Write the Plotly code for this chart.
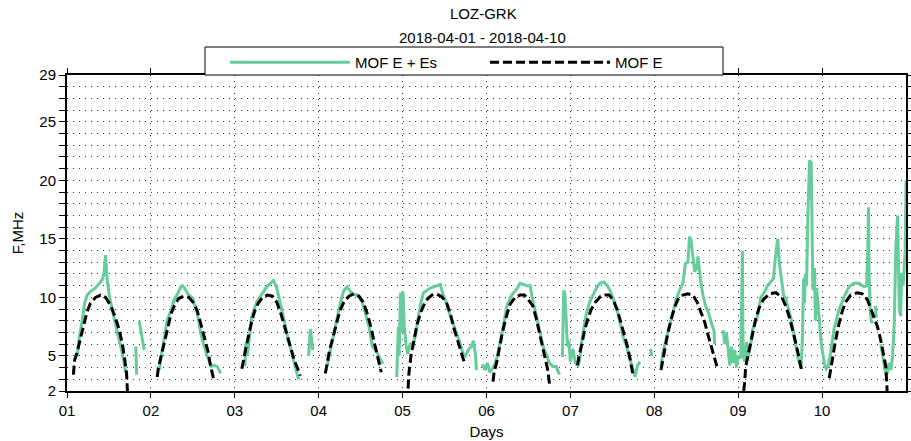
import plotly.graph_objects as go

# ---------------- data (x = day of April 2018, fractional; y = MHz) ----------------
# MOF E + Es (green), None marks a gap in the record
mof_es_day = (
    [1.123, 1.143, 1.183, 1.21, 1.24, 1.28, 1.34, 1.38, 1.42, 1.44, 1.46, 1.475, 1.50, 1.54, 1.58, 1.62, 1.66, 1.69, 1.70] + [None]
    + [1.82, 1.83] + [None]
    + [1.86, 1.89, 1.92] + [None]
    + [2.10, 2.12, 2.157, 2.197, 2.24, 2.277, 2.32, 2.356, 2.376, 2.40, 2.44, 2.50, 2.555, 2.595, 2.635, 2.675, 2.715, 2.754, 2.79, 2.83] + [None]
    + [3.12, 3.13, 3.15, 3.17, 3.20, 3.26, 3.32, 3.38, 3.44, 3.46, 3.50, 3.54, 3.58, 3.62, 3.66, 3.70, 3.74, 3.76] + [None]
    + [3.88, 3.90, 3.93] + [None]
    + [4.10, 4.14, 4.18, 4.22, 4.26, 4.30, 4.34, 4.40, 4.46, 4.52, 4.56, 4.60, 4.64, 4.68, 4.72, 4.745, 4.765] + [None]
    + [4.93, 4.95, 4.96, 4.975, 4.99, 5.005, 5.02, 5.04, 5.06, 5.09, 5.13, 5.16, 5.19, 5.22, 5.25, 5.29, 5.33, 5.37, 5.41, 5.45,
       5.48, 5.52, 5.56, 5.60, 5.64, 5.68, 5.72, 5.75, 5.79, 5.82, 5.845, 5.87, 5.88] + [None]
    + [5.95, 5.98, 6.01, 6.04, 6.07, 6.10, 6.13, 6.16, 6.20, 6.24, 6.30, 6.36, 6.40, 6.44, 6.48, 6.52, 6.555, 6.595, 6.635, 6.675,
       6.715, 6.75, 6.79, 6.83, 6.87] + [None]
    + [6.905, 6.92, 6.935, 6.95, 6.965, 6.98, 7.00, 7.03, 7.06, 7.09, 7.11, 7.13, 7.16, 7.19, 7.23, 7.27, 7.31, 7.35, 7.40, 7.44,
       7.48, 7.52, 7.56, 7.60, 7.63, 7.66, 7.69, 7.72, 7.75, 7.77, 7.80, 7.83] + [None]
    + [7.955, 7.97] + [None]
    + [8.08, 8.10, 8.14, 8.20, 8.26, 8.30, 8.34, 8.37, 8.40, 8.42, 8.44, 8.46, 8.48, 8.50, 8.52, 8.55, 8.58, 8.61, 8.65, 8.68,
       8.71, 8.72] + [None]
    + [8.82, 8.84, 8.86, 8.88, 8.90, 8.92, 8.94, 8.96, 8.98, 9.00, 9.03, 9.04, 9.05, 9.055, 9.06, 9.08, 9.10, 9.12, 9.15, 9.17,
       9.20, 9.23, 9.27, 9.31, 9.35, 9.39, 9.42, 9.44, 9.47, 9.49, 9.51, 9.54, 9.57, 9.60, 9.63, 9.66, 9.69, 9.72, 9.75, 9.765,
       9.78, 9.79, 9.80, 9.815, 9.83, 9.85, 9.87, 9.88, 9.89, 9.91, 9.92, 9.935, 9.95, 9.97, 9.99, 10.01, 10.03, 10.05, 10.07,
       10.10, 10.14, 10.20, 10.26, 10.32, 10.38, 10.44, 10.50, 10.53, 10.545, 10.553, 10.56, 10.575, 10.59, 10.60] + [None]
    + [10.635, 10.645] + [None]
    + [10.70, 10.72, 10.74, 10.76, 10.78, 10.80, 10.82, 10.84, 10.86, 10.87, 10.88, 10.90, 10.91, 10.92, 10.935, 10.95, 10.965,
       10.98, 10.99, 11.0]
)
mof_es_mhz = (
    [5.0, 6.4, 8.1, 9.5, 10.2, 10.5, 10.8, 11.2, 11.5, 12.0, 13.6, 11.8, 10.3, 8.9, 7.5, 6.4, 5.2, 3.9, 3.6] + [None]
    + [5.8, 3.4] + [None]
    + [8.0, 6.9, 5.5] + [None]
    + [3.8, 4.9, 6.4, 8.1, 8.9, 9.8, 10.3, 10.9, 11.0, 10.8, 10.3, 9.9, 8.6, 6.9, 5.8, 4.9, 4.1, 4.2, 4.1, 3.5] + [None]
    + [4.1, 6.1, 5.0, 6.5, 8.3, 9.6, 10.3, 10.9, 11.3, 11.5, 10.8, 9.6, 8.3, 6.9, 5.8, 4.9, 3.8, 3.0] + [None]
    + [5.0, 7.3, 5.5] + [None]
    + [4.1, 5.5, 6.9, 8.3, 9.6, 10.6, 10.9, 10.3, 10.2, 9.6, 8.6, 7.5, 5.8, 5.5, 4.9, 4.5, 4.3] + [None]
    + [3.2, 7.5, 5.0, 10.4, 7.0, 10.5, 7.5, 6.0, 5.2, 6.0, 6.1, 7.0, 8.4, 9.6, 10.4, 10.6, 10.8, 10.9, 11.0, 11.1,
       10.3, 9.6, 8.6, 7.8, 6.9, 6.2, 5.2, 5.0, 5.6, 5.8, 6.3, 5.0, 3.8] + [None]
    + [4.3, 3.8, 4.4, 3.6, 3.9, 4.3, 5.0, 6.0, 7.5, 9.2, 10.2, 10.7, 11.2, 11.1, 11.0, 11.0, 9.6, 8.4, 7.2, 5.8,
       5.1, 4.4, 4.1, 4.1, 3.4] + [None]
    + [4.9, 10.6, 10.3, 7.5, 5.8, 6.3, 4.5, 5.6, 4.4, 4.2, 4.6, 6.0, 7.4, 8.6, 9.6, 10.2, 10.8, 11.2, 11.3, 11.0,
       10.5, 9.7, 8.8, 7.6, 6.6, 6.0, 5.2, 4.6, 3.6, 3.2, 4.2, 4.5] + [None]
    + [5.6, 5.0] + [None]
    + [4.1, 5.2, 6.4, 8.1, 9.8, 10.6, 11.2, 12.9, 13.0, 15.2, 14.8, 13.5, 12.2, 12.4, 13.5, 11.5, 10.2, 9.3, 8.6, 7.8,
       7.2, 6.0] + [None]
    + [7.2, 6.0, 7.0, 5.5, 4.2, 5.8, 4.4, 5.5, 4.0, 5.0, 4.8, 9.0, 14.0, 8.0, 5.0, 4.5, 6.2, 5.0, 6.0, 7.2,
       7.8, 8.4, 10.0, 10.4, 11.0, 11.3, 11.6, 13.2, 15.0, 13.0, 11.8, 10.2, 9.8, 9.0, 8.2, 7.0, 5.8, 4.6, 4.0, 6.5,
       11.6, 9.5, 12.0, 11.0, 16.9, 21.7, 21.5, 17.0, 10.6, 12.5, 8.0, 10.8, 9.2, 7.8, 6.0, 5.0, 4.2, 3.9, 4.1,
       5.2, 7.2, 8.9, 10.0, 10.9, 11.2, 11.2, 10.9, 11.0, 14.0, 17.7, 12.0, 8.6, 7.8, 8.0] + [None]
    + [9.3, 8.3] + [None]
    + [6.0, 5.0, 4.2, 3.5, 3.6, 4.4, 3.8, 5.0, 7.8, 11.2, 14.5, 17.0, 14.0, 9.0, 8.4, 12.1, 11.0,
       12.7, 14.0, 20.0]
)

# MOF E (black dashed), one arc per day
mof_e_day = (
    [1.076, 1.09, 1.12, 1.16, 1.20, 1.24, 1.28, 1.34, 1.40, 1.46, 1.52, 1.57, 1.62, 1.66, 1.69, 1.71, 1.72] + [None]
    + [2.075, 2.09, 2.12, 2.16, 2.20, 2.24, 2.28, 2.33, 2.39, 2.45, 2.50, 2.55, 2.60, 2.64, 2.68, 2.71, 2.745] + [None]
    + [3.084, 3.10, 3.13, 3.16, 3.20, 3.24, 3.28, 3.33, 3.39, 3.45, 3.50, 3.55, 3.59, 3.63, 3.67, 3.71, 3.75, 3.78] + [None]
    + [4.079, 4.10, 4.13, 4.17, 4.21, 4.25, 4.30, 4.36, 4.42, 4.48, 4.53, 4.57, 4.61, 4.65, 4.69, 4.72, 4.745] + [None]
    + [5.065, 5.075, 5.10, 5.13, 5.17, 5.21, 5.25, 5.30, 5.35, 5.40, 5.46, 5.52, 5.57, 5.61, 5.65, 5.69, 5.72, 5.745] + [None]
    + [6.078, 6.09, 6.12, 6.15, 6.19, 6.23, 6.28, 6.34, 6.40, 6.45, 6.50, 6.55, 6.59, 6.63, 6.67, 6.70, 6.73, 6.755] + [None]
    + [7.086, 7.10, 7.13, 7.17, 7.21, 7.25, 7.30, 7.36, 7.41, 7.46, 7.51, 7.56, 7.60, 7.64, 7.68, 7.71, 7.735, 7.75] + [None]
    + [8.08, 8.10, 8.12, 8.16, 8.20, 8.24, 8.28, 8.34, 8.40, 8.46, 8.51, 8.55, 8.60, 8.64, 8.68, 8.72, 8.75] + [None]
    + [9.065, 9.075, 9.09, 9.13, 9.17, 9.21, 9.25, 9.30, 9.37, 9.45, 9.52, 9.57, 9.61, 9.65, 9.69, 9.72, 9.755] + [None]
    + [10.085, 10.10, 10.12, 10.16, 10.20, 10.24, 10.28, 10.34, 10.42, 10.48, 10.54, 10.58, 10.62, 10.66, 10.70, 10.73, 10.76, 10.775]
)
mof_e_mhz = (
    [3.4, 4.6, 5.3, 6.5, 7.8, 8.8, 9.5, 10.0, 10.2, 10.0, 9.3, 8.4, 7.3, 6.0, 4.6, 3.5, 2.0] + [None]
    + [3.2, 4.0, 4.9, 6.2, 7.4, 8.6, 9.3, 9.9, 10.1, 10.0, 9.6, 8.9, 7.6, 6.6, 5.4, 4.2, 3.1] + [None]
    + [3.9, 4.6, 5.6, 6.6, 7.9, 8.9, 9.5, 10.0, 10.2, 10.1, 9.6, 8.6, 7.6, 6.6, 5.6, 4.6, 3.9, 3.3] + [None]
    + [3.5, 4.4, 5.5, 6.6, 7.8, 8.8, 9.6, 10.1, 10.3, 10.1, 9.6, 8.8, 7.8, 6.6, 5.3, 4.4, 3.6] + [None]
    + [2.2, 3.5, 5.0, 6.2, 7.6, 8.6, 9.3, 9.9, 10.2, 10.3, 10.1, 9.6, 8.6, 7.4, 6.4, 5.5, 4.8, 4.3] + [None]
    + [2.8, 3.6, 4.4, 5.6, 7.0, 8.2, 9.4, 10.0, 10.2, 10.2, 9.8, 9.3, 8.3, 7.0, 5.6, 4.7, 3.8, 2.4] + [None]
    + [4.2, 4.9, 5.8, 7.2, 8.2, 9.0, 9.6, 10.1, 10.2, 10.2, 9.8, 8.9, 7.9, 6.9, 5.8, 4.8, 3.9, 3.2] + [None]
    + [3.8, 4.6, 5.5, 6.9, 8.1, 9.1, 9.8, 10.2, 10.3, 10.2, 9.6, 8.9, 7.9, 6.8, 5.8, 4.9, 4.0] + [None]
    + [2.0, 2.6, 4.1, 5.5, 7.0, 8.2, 9.1, 9.8, 10.3, 10.4, 10.0, 9.2, 8.3, 7.2, 6.0, 5.0, 3.8] + [None]
    + [3.1, 3.8, 4.6, 6.3, 7.7, 8.8, 9.6, 10.2, 10.4, 10.3, 9.8, 9.0, 8.2, 7.5, 6.3, 5.2, 4.1, 2.0]
)

day_ticks = [1, 2, 3, 4, 5, 6, 7, 8, 9, 10]
day_labels = ["01", "02", "03", "04", "05", "06", "07", "08", "09", "10"]
freq_ticks = [2, 5, 10, 15, 20, 25, 29]

title_text = "LOZ-GRK"
subtitle_text = "2018-04-01 - 2018-04-10"

# ---------------- figure ----------------
W, H = 911, 441
ML, MR, MT, MB = 67, 5, 75, 50
PW, PH = W - ML - MR, H - MT - MB


def px_x(px):
    return (px - ML) / PW


def px_y(py):
    return (H - MB - py) / PH


FONT = "Liberation Sans, Arial, sans-serif"
GREEN = "#66CC99"
GRID = "#333333"

fig = go.Figure()
fig.add_trace(go.Scatter(
    x=mof_es_day, y=mof_es_mhz, mode="lines", name="MOF E + Es",
    line=dict(color=GREEN, width=3), connectgaps=False,
))
fig.add_trace(go.Scatter(
    x=mof_e_day, y=mof_e_mhz, mode="lines", name="MOF E",
    line=dict(color="black", width=3, dash="9px,4px"), connectgaps=False,
))

fig.update_layout(
    width=W, height=H,
    margin=dict(l=ML, r=MR, t=MT, b=MB, autoexpand=False),
    paper_bgcolor="white", plot_bgcolor="white",
    font=dict(family=FONT, size=15, color="black"),
    showlegend=True,
    legend=dict(
        orientation="h", x=px_x(225), y=px_y(46), xanchor="left", yanchor="top",
        bgcolor="rgba(0,0,0,0)", borderwidth=0, itemwidth=120,
        entrywidth=125, entrywidthmode="pixels",
        font=dict(family=FONT, size=15, color="black"),
        itemclick=False,
    ),
    shapes=[dict(
        type="rect", xref="paper", yref="paper",
        x0=px_x(205), x1=px_x(723), y0=px_y(75), y1=px_y(47),
        line=dict(color="black", width=1), fillcolor="white", layer="above",
    )],
    annotations=[
        dict(text=title_text, xref="paper", yref="paper", x=px_x(483), y=px_y(13),
             showarrow=False, xanchor="center", yanchor="middle",
             font=dict(family=FONT, size=15, color="black")),
        dict(text=subtitle_text, xref="paper", yref="paper", x=px_x(482), y=px_y(37),
             showarrow=False, xanchor="center", yanchor="middle",
             font=dict(family=FONT, size=15, color="black")),
    ],
)

fig.update_xaxes(
    range=[1, 11], tickmode="array", tickvals=day_ticks, ticktext=day_labels,
    showgrid=True, gridcolor=GRID, griddash="1px,5px", gridwidth=1,
    ticks="outside", ticklen=5, tickwidth=1, tickcolor="black",
    showline=True, linecolor="black", linewidth=2, mirror="ticks",
    zeroline=False,
    title=dict(text="Days", standoff=8, font=dict(family=FONT, size=15)),
    tickfont=dict(family=FONT, size=15),
)
fig.update_yaxes(
    range=[2, 29], tickmode="array", tickvals=freq_ticks,
    showgrid=True, gridcolor=GRID, griddash="1px,5px", gridwidth=1,
    ticks="outside", ticklen=6, tickwidth=1, tickcolor="black",
    minor=dict(dtick=1, tick0=2, ticks="outside", ticklen=6, tickwidth=1, tickcolor="black",
               showgrid=True, gridcolor=GRID, griddash="1px,5px", gridwidth=1),
    showline=True, linecolor="black", linewidth=2, mirror="ticks",
    zeroline=False,
    title=dict(text="F,MHz", standoff=12, font=dict(family=FONT, size=15)),
    tickfont=dict(family=FONT, size=15),
)

fig.write_html("out.html")
